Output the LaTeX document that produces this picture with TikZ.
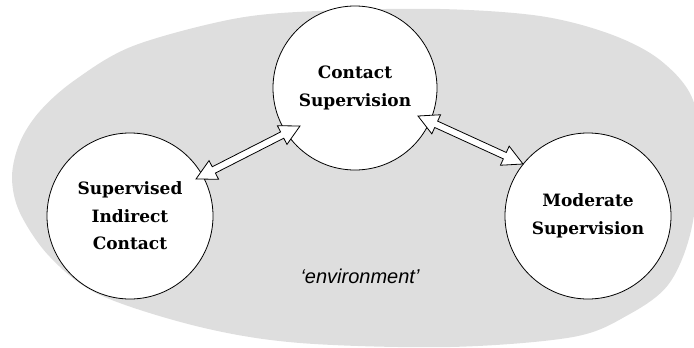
\documentclass[tikz,border=0pt]{standalone}
\usepackage{fontspec}
\setmainfont{DejaVu Serif}
\newfontfamily\envfont{Liberation Sans}
\usetikzlibrary{calc}
\definecolor{envgray}{RGB}{222,222,222}
\newcommand{\hollowdbl}[2]{%
  \path ($(#1)!20pt!(#2)$) coordinate (h1) ($(#2)!20pt!(#1)$) coordinate (h2);
  \draw[dblarrow] (#1) -- ($(h1)!10.5pt!90:(#2)$) -- ($(h1)!3.5pt!90:(#2)$)
    -- ($(h2)!3.5pt!-90:(#1)$) -- ($(h2)!10.5pt!-90:(#1)$) -- (#2)
    -- ($(h2)!10.5pt!90:(#1)$) -- ($(h2)!3.5pt!90:(#1)$)
    -- ($(h1)!3.5pt!-90:(#2)$) -- ($(h1)!10.5pt!-90:(#2)$) -- cycle;}
\begin{document}
\begin{tikzpicture}[x=1pt,y=-1pt,
  state/.style={circle, draw=black, fill=white, line width=0.8pt, inner sep=0pt,
    align=center, font=\bfseries\fontsize{17}{27.5}\selectfont},
  dblarrow/.style={draw=black, fill=white, line width=0.8pt, line join=miter},
  envlabel/.style={font=\envfont\itshape\fontsize{20}{24}\selectfont, anchor=base, inner sep=0pt}]
\useasboundingbox (0,0) rectangle (694,348);
\begin{scope}
\clip (0,0) rectangle (694,348);
\fill[envgray] plot[smooth cycle, tension=0.55] coordinates {
  (12,177) (20,213) (50,257) (100,295) (200,327) (300,343) (450,347)
  (573,337) (628,315) (668,285) (690,235) (699,165) (693,100) (660,60)
  (610,34) (540,16) (440,9) (317,11) (233,19) (133,46) (75,80) (40,111) (20,142)};
\end{scope}
\node[envlabel] (env) at (360,283) {‘environment’};
\node[state, minimum size=164pt] (cs) at (355,88) {Contact\\Supervision};
\node[state, minimum size=166pt] (sic) at (130,216) {Supervised\\Indirect\\Contact};
\node[state, minimum size=166pt] (ms) at (588,216) {Moderate\\Supervision};
\coordinate (l1) at ($(sic.center)+(66,-37)$);
\coordinate (l2) at ($(cs.center)+(-55,38)$);
\coordinate (r1) at ($(cs.center)+(63,28)$);
\coordinate (r2) at ($(ms.center)+(-65,-52)$);
\hollowdbl{l1}{l2}
\hollowdbl{r1}{r2}
\end{tikzpicture}
\end{document}
